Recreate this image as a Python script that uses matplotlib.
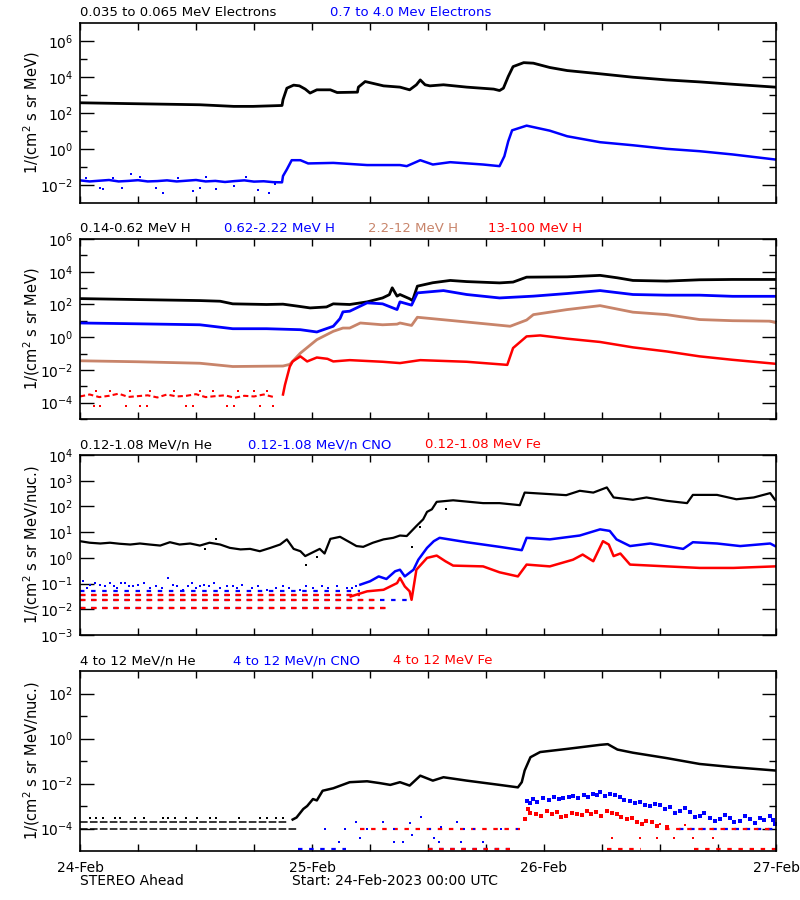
import numpy as np
import matplotlib
matplotlib.use('Agg')
import matplotlib.pyplot as plt
from matplotlib.ticker import FixedLocator, NullFormatter, LogFormatterSciNotation

# all values are log10 of the intensity, times are hours after 24-Feb-2023 00:00

# --- panel 1: electrons
ele_lo_t = [0, 5.5, 12.4, 15.9, 17.9, 20.9, 21.0, 21.4, 22.1, 22.7, 23.3, 23.8, 24.5, 25.9,
            26.6, 28.7, 28.8, 29.5, 31.4, 33.1, 34.1, 34.8, 35.2, 35.7, 36.2, 37.6, 40.0, 42.8,
            43.4, 43.8, 44.3, 44.8, 45.9, 46.9, 48.6, 50.4, 53.8, 57.2, 60.7, 64.1, 67.5, 71.9]
ele_lo_v = [2.57, 2.52, 2.46, 2.37, 2.37, 2.42, 2.74, 3.38, 3.55, 3.51, 3.33, 3.11, 3.29, 3.29,
            3.14, 3.16, 3.44, 3.75, 3.51, 3.44, 3.29, 3.57, 3.84, 3.57, 3.51, 3.57, 3.44, 3.33,
            3.25, 3.38, 4.03, 4.58, 4.8, 4.77, 4.53, 4.36, 4.18, 3.99, 3.84, 3.73, 3.6, 3.44]
ele_hi_t = [0, 1, 2, 3, 4, 5, 6, 7, 8, 9, 10, 11, 12, 13, 14, 15, 16, 17, 18, 19, 20,
            20.9, 21.0, 21.4, 21.9, 22.8, 23.6, 26.2, 29.7, 33.1, 33.8, 35.2, 36.5, 38.3, 41.7,
            43.4, 43.9, 44.3, 44.7, 46.2, 48.6, 50.4, 53.8, 57.2, 60.7, 64.1, 67.5, 71.9]
ele_hi_v = [-1.74, -1.8, -1.76, -1.72, -1.8, -1.77, -1.73, -1.8, -1.78, -1.74, -1.8, -1.76,
            -1.72, -1.8, -1.77, -1.83, -1.78, -1.74, -1.81, -1.79, -1.84,
            -1.85, -1.5, -1.13, -0.62, -0.62, -0.8, -0.77, -0.89, -0.89, -0.95, -0.62, -0.86,
            -0.73, -0.86, -0.95, -0.4, 0.43, 1.04, 1.3, 1.02, 0.71, 0.38, 0.21, 0.01, -0.12,
            -0.3, -0.58]
ele_hi_nz_t = [0.6, 2.1, 2.4, 3.4, 4.3, 5.3, 6.2, 7.9, 8.6, 10.1, 11.7, 12.4, 13.0, 14.1,
               15.9, 17.2, 18.4, 19.5, 20.2]
ele_hi_nz_v = [-1.6, -2.15, -2.2, -1.62, -2.15, -1.41, -1.55, -2.15, -2.42, -1.6, -2.33,
               -2.15, -1.58, -2.24, -2.06, -1.55, -2.28, -2.42, -1.95]

# --- panel 2: protons
h1_t = [0, 6, 12.4, 14.5, 15.8, 19.3, 21.0, 22.5, 23.8, 25.5, 26.2, 27.9, 29.7, 31.3, 32.0,
        32.3, 32.8, 33.1, 34.1, 34.4, 34.9, 36.5, 38.3, 40.0, 43.4, 44.8, 46.2, 50.4, 53.8,
        55.6, 57.2, 60.7, 64.1, 67.5, 71.9]
h1_v = [2.36, 2.3, 2.24, 2.2, 2.04, 2.0, 2.02, 1.9, 1.79, 1.85, 2.04, 2.0, 2.16, 2.4, 2.6,
        3.02, 2.51, 2.61, 2.35, 2.24, 3.12, 3.33, 3.47, 3.4, 3.32, 3.37, 3.67, 3.69, 3.78,
        3.63, 3.47, 3.43, 3.51, 3.53, 3.53]
h2_t = [0, 6, 12.4, 15.8, 19.3, 22.8, 24.5, 26.2, 26.9, 27.2, 27.9, 29.7, 31.3, 32.8, 33.1,
        34.3, 34.9, 37.6, 40.0, 43.4, 46.9, 50.4, 53.8, 57.2, 60.7, 64.1, 67.5, 71.9]
h2_v = [0.87, 0.82, 0.76, 0.52, 0.52, 0.46, 0.32, 0.67, 1.14, 1.55, 1.59, 2.1, 2.04, 1.69,
        2.16, 1.96, 2.71, 2.85, 2.61, 2.4, 2.51, 2.67, 2.85, 2.61, 2.57, 2.57, 2.5, 2.5]
h3_t = [0, 6, 12.4, 15.8, 21.0, 21.7, 22.8, 24.5, 26.2, 27.2, 27.9, 29.0, 31.3, 32.8, 33.1,
        34.3, 34.9, 36.5, 40.0, 44.5, 46.2, 46.9, 50.4, 53.8, 57.2, 60.7, 64.1, 67.5, 71.4, 71.9]
h3_v = [-1.44, -1.5, -1.59, -1.79, -1.76, -1.66, -0.97, -0.15, 0.36, 0.56, 0.56, 0.87, 0.76,
        0.8, 0.87, 0.72, 1.22, 1.13, 0.93, 0.67, 1.05, 1.38, 1.69, 1.93, 1.53, 1.38, 1.08,
        1.01, 0.98, 0.9]
h4_t = [21.0, 21.2, 21.7, 22.0, 22.8, 23.5, 24.5, 25.6, 26.2, 27.9, 31.3, 33.1, 35.2, 40.0,
        44.2, 44.8, 46.2, 47.6, 50.4, 53.8, 57.2, 60.7, 64.1, 67.5, 71.9]
h4_v = [-3.5, -2.92, -1.8, -1.48, -1.17, -1.48, -1.24, -1.32, -1.48, -1.4, -1.5, -1.58, -1.4,
        -1.5, -1.69, -0.66, 0.05, 0.11, -0.09, -0.29, -0.62, -0.87, -1.17, -1.38, -1.62]
h4_pre_t = [0, 1, 2, 3, 4, 5, 6, 7, 8, 9, 10, 11, 12, 13, 14, 15, 16, 17, 18, 19, 20]
h4_pre_v = [-3.62, -3.5, -3.66, -3.58, -3.45, -3.65, -3.6, -3.55, -3.68, -3.5, -3.62, -3.58,
            -3.48, -3.66, -3.6, -3.55, -3.7, -3.58, -3.62, -3.5, -3.65]
h4_dot_t = [1.4, 2.1, 4.8, 6.2, 6.9, 11.0, 11.7, 15.2, 15.9, 18.6, 20.0,
            1.7, 3.1, 5.2, 7.2, 9.7, 12.4, 13.8, 16.3, 18.0, 19.3]
h4_dot_v = [-4.18, -4.18, -4.18, -4.18, -4.18, -4.18, -4.18, -4.18, -4.18, -4.18, -4.18,
            -3.3, -3.3, -3.3, -3.3, -3.3, -3.3, -3.3, -3.3, -3.3, -3.3]

# --- panel 3: 0.12-1.08 MeV/n heavy ions
he3_t = [0, 1.0, 2.1, 3.1, 4.1, 5.2, 6.2, 7.2, 8.3, 9.3, 10.3, 11.4, 12.4, 13.4, 14.5, 15.5,
         16.6, 17.6, 18.6, 19.7, 20.7, 21.4, 22.1, 22.8, 23.3, 24.1, 24.8, 25.3, 25.9, 26.9,
         27.9, 28.6, 29.3, 30.3, 31.4, 32.4, 33.1, 33.8, 34.8, 35.5, 35.9, 36.4, 36.9, 38.6,
         41.7, 43.4, 45.5, 46.0, 48.6, 50.3, 51.7, 53.1, 54.5, 55.2, 57.2, 58.6, 60.7, 62.8,
         63.4, 65.9, 67.9, 69.7, 71.4, 71.9]
he3_v = [0.65, 0.59, 0.56, 0.59, 0.55, 0.52, 0.56, 0.52, 0.48, 0.61, 0.52, 0.56, 0.48, 0.59,
         0.52, 0.39, 0.33, 0.35, 0.26, 0.39, 0.52, 0.72, 0.35, 0.26, 0.07, 0.22, 0.35, 0.17,
         0.74, 0.82, 0.61, 0.46, 0.43, 0.59, 0.72, 0.78, 0.87, 0.85, 1.24, 1.5, 1.79, 1.89,
         2.18, 2.24, 2.13, 2.13, 2.05, 2.54, 2.48, 2.44, 2.61, 2.54, 2.74, 2.35, 2.26, 2.35,
         2.22, 2.13, 2.45, 2.45, 2.28, 2.35, 2.52, 2.26]
he3_nz_t = [12.9, 14.1, 23.4, 24.5, 34.3, 35.2, 37.9]
he3_nz_v = [0.35, 0.72, -0.26, 0.05, 0.43, 1.2, 1.89]
cno3_t = [29.0, 30.0, 30.9, 31.7, 32.6, 33.1, 33.6, 34.5, 35.0, 35.9, 36.6, 37.2, 40.0, 43.4,
          45.7, 46.2, 48.6, 51.7, 53.8, 54.8, 55.5, 56.9, 59.0, 62.4, 63.4, 65.9, 68.3, 71.4,
          71.9]
cno3_v = [-1.04, -0.91, -0.72, -0.82, -0.52, -0.46, -0.72, -0.46, -0.07, 0.39, 0.65, 0.78,
          0.61, 0.43, 0.3, 0.78, 0.72, 0.87, 1.11, 1.05, 0.72, 0.46, 0.56, 0.35, 0.61, 0.56,
          0.46, 0.56, 0.46]
cno3_nz_t = [0.3, 1.0, 2.1, 3.1, 3.8, 4.7, 5.5, 6.6, 7.2, 7.9, 9.1, 10.0, 10.7, 11.6, 12.4,
             13.3, 14.5, 15.2, 16.2, 17.8, 19.3, 21.0, 21.6, 22.8, 24.1, 25.7, 26.6, 27.6, 28.6,
             0.7, 1.5, 2.6, 3.5, 4.2, 5.1, 6.0, 8.5, 9.6, 11.2, 12.0, 12.8, 13.9, 15.8, 16.8,
             18.4, 20.3, 23.4, 25.0, 28.1]
cno3_nz_v = [-0.88, -1.04, -1.04, -0.98, -1.17, -0.98, -1.08, -0.98, -1.17, -1.08, -0.8,
             -1.08, -1.24, -0.98, -1.11, -1.08, -1.17, -1.08, -1.17, -1.17, -1.24, -1.08,
             -1.17, -1.24, -1.17, -1.17, -1.08, -1.17, -1.08,
             -1.17, -0.98, -1.11, -1.08, -0.98, -1.11, -1.04, -1.17, -1.04, -1.11, -1.17,
             -1.04, -0.98, -1.11, -1.04, -1.11, -1.17, -1.08, -1.11, -1.17]
fe3_t = [28.0, 29.7, 31.4, 32.8, 33.1, 33.6, 34.1, 34.3, 34.8, 35.9, 36.9, 37.8, 38.6, 41.7,
         43.4, 45.3, 46.2, 48.6, 51.0, 52.0, 53.1, 54.1, 54.7, 55.2, 55.9, 56.9, 60.7, 64.1,
         67.6, 71.9]
fe3_v = [-1.5, -1.3, -1.24, -0.98, -0.78, -1.11, -1.3, -1.63, -0.46, 0.0, 0.09, -0.13, -0.3,
         -0.33, -0.56, -0.72, -0.26, -0.33, -0.07, 0.13, -0.13, 0.65, 0.52, 0.07, 0.17, -0.26,
         -0.33, -0.39, -0.39, -0.33]
# count-limited floor levels (level, start hour, end hour)
cno3_floor = [(-1.3, 0.0, 29.0), (-1.43, 0.0, 29.0), (-1.63, 0.0, 34.0), (-1.95, 0.0, 32.0)]
fe3_floor = [(-1.43, 0.0, 29.0), (-1.63, 0.0, 31.0), (-1.95, 0.0, 32.0)]

# --- panel 4: 4-12 MeV/n heavy ions
he4_t = [22.0, 22.4, 23.1, 23.5, 24.1, 24.5, 25.1, 26.2, 27.9, 29.7, 31.0, 32.1, 33.1, 34.1,
         35.2, 36.5, 37.6, 40.0, 43.4, 45.3, 45.7, 46.0, 46.6, 47.6, 50.4, 53.8, 54.6, 55.6,
         57.2, 60.7, 64.1, 67.5, 71.9]
he4_v = [-3.6, -3.51, -3.13, -3.0, -2.69, -2.75, -2.32, -2.21, -1.94, -1.9, -1.98, -2.06,
         -1.94, -2.09, -1.65, -1.87, -1.72, -1.87, -2.06, -2.17, -1.94, -1.42, -0.83, -0.6,
         -0.46, -0.28, -0.25, -0.49, -0.63, -0.87, -1.13, -1.27, -1.42]
he4_dot_t = [1.0, 1.7, 2.4, 3.6, 4.1, 5.7, 6.6, 8.6, 9.1, 9.8, 11.0, 12.1, 13.4, 14.1, 16.4,
             18.6, 19.3, 20.3, 21.0]
he4_dot_v = [-3.55, -3.55, -3.55, -3.55, -3.55, -3.55, -3.55, -3.55, -3.55, -3.55, -3.55,
             -3.55, -3.55, -3.55, -3.55, -3.55, -3.55, -3.55, -3.55]
he4_floor = [(-4.0, 0.0, 22.5), (-3.71, 0.0, 21.5)]
cno4_t = [46.2, 46.9, 47.9, 49.0, 50.0, 51.0, 52.1, 53.1, 53.8, 54.8, 55.9, 56.9, 57.9, 59.0,
          60.0, 61.0, 62.1, 63.1, 64.1, 65.2, 66.2, 67.2, 68.3, 69.3, 70.3, 71.4, 71.9,
          46.5, 47.3, 48.5, 49.5, 50.6, 51.5, 52.5, 53.5, 54.3, 55.3, 56.3, 57.4, 58.4, 59.5,
          60.5, 61.5, 62.6, 63.6, 64.6, 65.7, 66.7, 67.7, 68.8, 69.8, 70.8, 71.7]
cno4_v = [-2.76, -2.69, -2.66, -2.61, -2.66, -2.54, -2.51, -2.46, -2.39, -2.46, -2.61, -2.76,
          -2.84, -2.99, -2.96, -3.06, -3.21, -3.28, -3.43, -3.51, -3.58, -3.51, -3.65, -3.58,
          -3.51, -3.43, -3.8,
          -2.85, -2.8, -2.72, -2.7, -2.6, -2.64, -2.58, -2.52, -2.56, -2.5, -2.72, -2.85,
          -2.95, -2.9, -3.12, -3.3, -3.1, -3.5, -3.3, -3.65, -3.4, -3.7, -3.45, -3.75, -3.6,
          -3.62]
cno4_pre_t = [25.3, 27.4, 28.5, 29.7, 31.3, 32.5, 34.1, 35.3, 36.2, 37.3, 39.0, 39.7, 40.8,
              43.6, 45.2, 26.8, 29.0, 32.5, 33.4, 34.3, 36.6, 37.1, 39.4, 41.7]
cno4_pre_v = [-4.0, -4.0, -3.71, -4.0, -3.71, -4.0, -3.75, -3.5, -4.0, -3.95, -3.71, -4.0,
              -4.0, -4.0, -4.0, -4.6, -4.44, -4.6, -4.6, -4.3, -4.44, -4.6, -4.6, -4.6]
cno4_floor = [(-4.89, 22.5, 27.5), (-4.89, 36.0, 44.5), (-4.0, 62.0, 72.0)]
fe4_t = [46.0, 46.3, 47.2, 48.3, 49.3, 50.3, 51.4, 52.4, 53.4, 54.5, 55.5, 56.6, 57.6, 58.6,
         59.7, 60.7,
         46.6, 47.7, 48.8, 49.8, 50.9, 51.9, 52.9, 53.9, 55.0, 56.0, 57.1, 58.1, 59.2]
fe4_v = [-3.58, -3.13, -3.36, -3.21, -3.28, -3.43, -3.36, -3.21, -3.28, -3.21, -3.36, -3.58,
         -3.73, -3.66, -3.88, -3.95,
         -3.3, -3.45, -3.35, -3.5, -3.3, -3.42, -3.35, -3.45, -3.3, -3.5, -3.55, -3.8, -3.7]
fe4_low_t = [55.0, 57.9, 59.7, 61.4, 63.4, 65.5, 60.0, 62.6]
fe4_low_v = [-4.4, -4.4, -4.4, -4.4, -4.4, -4.4, -3.8, -3.85]
fe4_floor = [(-4.0, 29.0, 45.5), (-4.89, 36.0, 44.5), (-4.0, 60.5, 72.0), (-4.89, 54.5, 58.0),
             (-4.89, 63.5, 72.0)]

day_labels = ['24-Feb', '25-Feb', '26-Feb', '27-Feb']

BLUE = '#0000ff'
RED = '#ff0000'
BROWN = '#c8846a'


def lg(v):
    return 10.0 ** np.asarray(v, dtype=float)


def trace(ax, t, v, color, lw=2.0):
    ax.plot(t, lg(v), color=color, lw=lw)


def dots(ax, t, v, color, ms=2.0):
    ax.plot(t, lg(v), ls='none', marker='s', ms=ms, mew=0, color=color)


def floors(ax, segs, color, dashes, lw=1.6):
    for lvl, t0, t1 in segs:
        ax.plot([t0, t1], lg([lvl, lvl]), color=color, lw=lw, dashes=dashes)


def setup(ax, lo, hi, major, minor, ylabel, titles, bottom=False):
    ax.set_xlim(0, 72)
    ax.set_yscale('log')
    ax.set_ylim(10.0 ** lo, 10.0 ** hi)
    ax.yaxis.set_major_locator(FixedLocator([10.0 ** e for e in major]))
    ax.yaxis.set_minor_locator(FixedLocator([10.0 ** e for e in minor]))
    ax.yaxis.set_major_formatter(LogFormatterSciNotation())
    ax.yaxis.set_minor_formatter(NullFormatter())
    ax.xaxis.set_major_locator(FixedLocator(list(range(0, 73, 6))))
    if bottom:
        ax.set_xticklabels([day_labels[i // 24] if i % 24 == 0 else '' for i in range(0, 73, 6)])
    else:
        ax.set_xticklabels([])
    ax.tick_params(axis='y', which='major', direction='in', length=10, width=1,
                   right=True, labelsize=10, pad=5)
    ax.tick_params(axis='y', which='minor', direction='in', length=5, width=1, right=True)
    ax.tick_params(axis='x', which='major', direction='in', length=5, width=1, top=True,
                   labelsize=10, pad=7)
    for s in ax.spines.values():
        s.set_linewidth(1.2)
    ax.set_ylabel(ylabel, fontsize=10.5)
    ax.yaxis.set_label_coords(-0.055, 0.5)
    for xf, txt, col in titles:
        ax.text(xf, 1.02, txt, color=col, fontsize=9.5, transform=ax.transAxes,
                ha='left', va='bottom')


fig = plt.figure(figsize=(8, 9), dpi=100)
left, width, height = 0.1, 0.87, 0.2
ax1 = fig.add_axes([left, 0.7744, width, height])
ax2 = fig.add_axes([left, 0.5344, width, height])
ax3 = fig.add_axes([left, 0.2944, width, height])
ax4 = fig.add_axes([left, 0.0544, width, height])

# panel 1
trace(ax1, ele_lo_t, ele_lo_v, 'black', lw=2.0)
trace(ax1, ele_hi_t, ele_hi_v, BLUE, lw=1.8)
dots(ax1, ele_hi_nz_t, ele_hi_nz_v, BLUE, ms=1.6)
setup(ax1, -3, 7, [-2, 0, 2, 4, 6], [-1, 1, 3, 5], '1/(cm$^2$ s sr MeV)',
      [(0.0, '0.035 to 0.065 MeV Electrons', 'black'),
       (0.359, '0.7 to 4.0 Mev Electrons', BLUE)])

# panel 2
trace(ax2, h1_t, h1_v, 'black', lw=2.0)
trace(ax2, h2_t, h2_v, BLUE, lw=2.0)
trace(ax2, h3_t, h3_v, BROWN, lw=2.0)
trace(ax2, h4_t, h4_v, RED, lw=1.8)
ax2.plot(h4_pre_t, lg(h4_pre_v), color=RED, lw=1.5, dashes=(2.5, 1.5))
dots(ax2, h4_dot_t, h4_dot_v, RED, ms=1.8)
setup(ax2, -5, 6, [-4, -2, 0, 2, 4, 6], [-5, -3, -1, 1, 3, 5], '1/(cm$^2$ s sr MeV)',
      [(0.0, '0.14-0.62 MeV H', 'black'),
       (0.207, '0.62-2.22 MeV H', BLUE),
       (0.414, '2.2-12 MeV H', BROWN),
       (0.586, '13-100 MeV H', RED)])

# panel 3
floors(ax3, cno3_floor, BLUE, (2, 3))
floors(ax3, fe3_floor, RED, (2.5, 2.5))
dots(ax3, cno3_nz_t, cno3_nz_v, BLUE)
trace(ax3, he3_t, he3_v, 'black', lw=1.6)
dots(ax3, he3_nz_t, he3_nz_v, 'black')
trace(ax3, cno3_t, cno3_v, BLUE, lw=1.8)
trace(ax3, fe3_t, fe3_v, RED, lw=1.8)
setup(ax3, -3, 4, [-3, -2, -1, 0, 1, 2, 3, 4], [], '1/(cm$^2$ s sr MeV/nuc.)',
      [(0.0, '0.12-1.08 MeV/n He', 'black'),
       (0.241, '0.12-1.08 MeV/n CNO', BLUE),
       (0.496, '0.12-1.08 MeV Fe', RED)])

# panel 4
floors(ax4, he4_floor, 'black', (5, 1.5), lw=1.1)
dots(ax4, he4_dot_t, he4_dot_v, 'black', ms=1.8)
floors(ax4, cno4_floor, BLUE, (2, 3))
floors(ax4, fe4_floor, RED, (2, 3))
dots(ax4, cno4_pre_t, cno4_pre_v, BLUE)
trace(ax4, he4_t, he4_v, 'black', lw=1.8)
dots(ax4, cno4_t, cno4_v, BLUE, ms=2.4)
dots(ax4, fe4_t, fe4_v, RED, ms=2.4)
dots(ax4, fe4_low_t, fe4_low_v, RED)
setup(ax4, -5, 3, [-4, -2, 0, 2], [-3, -1, 1], '1/(cm$^2$ s sr MeV/nuc.)',
      [(0.0, '4 to 12 MeV/n He', 'black'),
       (0.22, '4 to 12 MeV/n CNO', BLUE),
       (0.45, '4 to 12 MeV Fe', RED)], bottom=True)

fig.text(0.1, 1 - 881 / 900, 'STEREO Ahead', fontsize=10, va='center', ha='left')
fig.text(0.365, 1 - 881 / 900, 'Start: 24-Feb-2023 00:00 UTC', fontsize=10, va='center',
         ha='left')

fig.savefig('out.png', dpi=100, facecolor='white')
